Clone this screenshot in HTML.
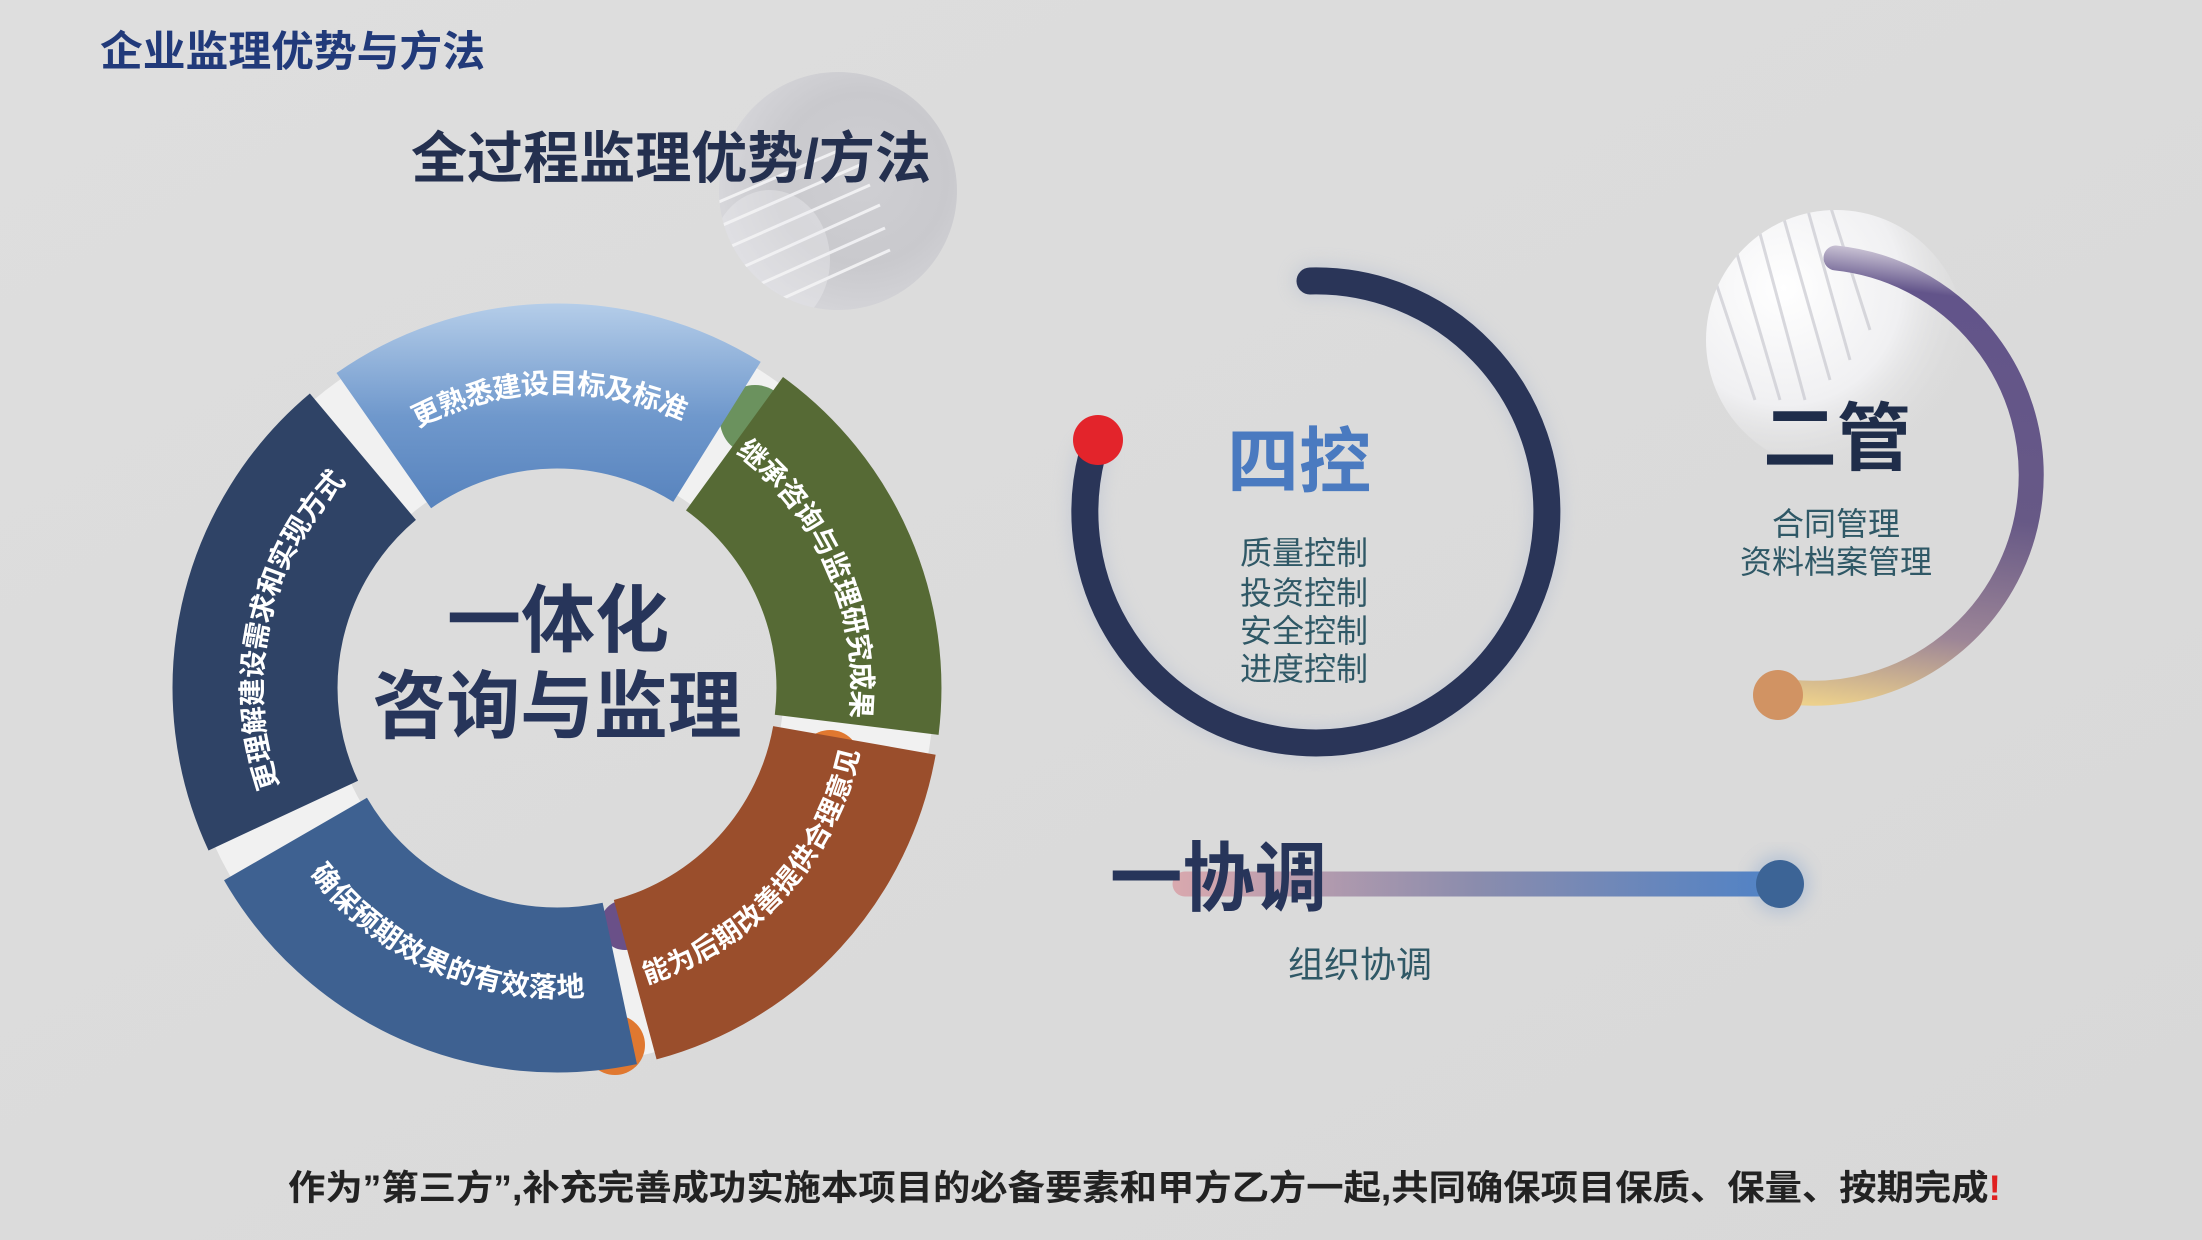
<!DOCTYPE html>
<html><head><meta charset="utf-8">
<style>
html,body{margin:0;padding:0;background:#dcdcdc;}
svg{display:block}
text{font-family:"Liberation Sans","Noto Sans CJK SC",sans-serif;}
</style></head>
<body>
<svg width="2202" height="1240" viewBox="0 0 2202 1240" xmlns="http://www.w3.org/2000/svg">
<defs>
  <linearGradient id="bg" x1="0" y1="0" x2="1" y2="1">
    <stop offset="0" stop-color="#dedede"/><stop offset="1" stop-color="#d8d8d8"/>
  </linearGradient>
  <linearGradient id="topg" x1="0" y1="0" x2="0" y2="1" gradientUnits="userSpaceOnUse" x1v="0">
  </linearGradient>
  <linearGradient id="topBlue" gradientUnits="userSpaceOnUse" x1="557" y1="300" x2="557" y2="560">
    <stop offset="0" stop-color="#b7cfea"/><stop offset="0.45" stop-color="#6f98cc"/><stop offset="1" stop-color="#4a77b5"/>
  </linearGradient>
  <linearGradient id="erg" gradientUnits="userSpaceOnUse" x1="1836" y1="245" x2="1780" y2="700">
    <stop offset="0" stop-color="#c9c2d4"/><stop offset="0.08" stop-color="#62548a"/><stop offset="0.55" stop-color="#675986"/>
    <stop offset="0.82" stop-color="#9c8597"/><stop offset="1" stop-color="#ecd08c"/>
  </linearGradient>
  <linearGradient id="barg" gradientUnits="userSpaceOnUse" x1="1176" y1="0" x2="1780" y2="0">
    <stop offset="0" stop-color="#d8a8ae"/><stop offset="0.5" stop-color="#8a8cad"/><stop offset="1" stop-color="#4f82c6"/>
  </linearGradient>
  <radialGradient id="c1" cx="0.6" cy="0.45" r="0.6">
    <stop offset="0" stop-color="#cfcfd3"/><stop offset="0.6" stop-color="#c9c9cd"/><stop offset="1" stop-color="#d6d6da"/>
  </radialGradient>
  <radialGradient id="c2" cx="0.3" cy="0.3" r="0.75">
    <stop offset="0" stop-color="#ffffff"/><stop offset="0.6" stop-color="#f0f0f2"/><stop offset="1" stop-color="#dcdcdc" stop-opacity="0"/>
  </radialGradient>
  <clipPath id="cc1"><circle cx="838" cy="191" r="119"/></clipPath>
  <clipPath id="cc2"><circle cx="1836" cy="340" r="130"/></clipPath>
  <filter id="blur" x="-20%" y="-20%" width="140%" height="140%"><feGaussianBlur stdDeviation="8"/></filter>

  <path id="tpTop" d="M383.8,440.6 A302,302 0 0 1 717,431.9"/>
  <path id="tpGreen" d="M734.5,443.7 A302,302 0 0 1 856.7,724.8"/>
  <path id="tpNavy" d="M283.3,815.6 A302,302 0 0 1 362.9,456.7"/>
  <path id="tpBrown" d="M635.2,979.7 A302,302 0 0 0 854.4,740.4"/>
  <path id="tpBottom" d="M295.5,839 A302,302 0 0 0 619.8,983.4"/>
</defs>
<rect width="2202" height="1240" fill="url(#bg)"/>

<!-- decorative circle 1 -->
<circle cx="838" cy="191" r="119" fill="url(#c1)"/>
<g clip-path="url(#cc1)" stroke="#f4f4f6" stroke-width="3" opacity="0.9">
  <path d="M700,210 L840,150 M700,235 L860,165 M700,260 L870,185 M710,282 L880,205 M720,302 L885,228 M735,320 L890,250"/>
</g>
<ellipse cx="770" cy="260" rx="60" ry="70" fill="#f1f1f3" opacity="0.35" clip-path="url(#cc1)"/>

<!-- decorative circle 2 -->
<circle cx="1836" cy="340" r="130" fill="url(#c2)"/>
<g clip-path="url(#cc2)" stroke="#c9c9d0" stroke-width="3" opacity="0.7">
  <path d="M1730,230 L1780,400 M1755,215 L1805,400 M1780,205 L1830,380 M1805,200 L1850,360 M1830,205 L1870,330 M1705,250 L1755,400"/>
</g>

<!-- Titles -->
<text x="100" y="66" font-size="42" font-weight="bold" fill="#213a7a" textLength="385" lengthAdjust="spacingAndGlyphs">企业监理优势与方法</text>
<text x="411" y="178" font-size="56" font-weight="bold" fill="#24304f" textLength="520" lengthAdjust="spacingAndGlyphs">全过程监理优势/方法</text>

<!-- Ring -->
<circle cx="557" cy="688" r="302" fill="none" stroke="#f1f1f1" stroke-width="150"/>
<!-- colored caps -->
<circle cx="315" cy="470" r="40" fill="#923c3e"/>
<circle cx="300" cy="900" r="45" fill="#923c3e"/>
<circle cx="755" cy="420" r="35" fill="#4a7a3a" opacity="0.8"/>
<circle cx="830" cy="760" r="30" fill="#e07830"/>
<circle cx="615" cy="1045" r="30" fill="#e07830"/>
<circle cx="625" cy="925" r="25" fill="#6a5088"/>
<circle cx="280" cy="880" r="25" fill="#6a5088"/>

<path d="M383.8,440.6 A302,302 0 0 1 717,431.9" fill="none" stroke="url(#topBlue)" stroke-width="165"/>
<path d="M734.5,443.7 A302,302 0 0 1 856.7,724.8" fill="none" stroke="#566a35" stroke-width="165"/>
<path d="M854.4,740.4 A302,302 0 0 1 635.2,979.7" fill="none" stroke="#9a4e2c" stroke-width="165"/>
<path d="M619.8,983.4 A302,302 0 0 1 295.5,839" fill="none" stroke="#3e6191" stroke-width="165"/>
<path d="M283.3,815.6 A302,302 0 0 1 362.9,456.7" fill="none" stroke="#2f4366" stroke-width="165"/>

<g font-size="28" fill="#ffffff" font-weight="bold">
  <text dominant-baseline="middle"><textPath href="#tpTop" startOffset="50%" text-anchor="middle">更熟悉建设目标及标准</textPath></text>
  <text dominant-baseline="middle"><textPath href="#tpGreen" startOffset="50%" text-anchor="middle">继承咨询与监理研究成果</textPath></text>
  <text dominant-baseline="middle"><textPath href="#tpNavy" startOffset="50%" text-anchor="middle">更理解建设需求和实现方式</textPath></text>
  <text dominant-baseline="middle" font-size="27"><textPath href="#tpBrown" startOffset="50%" text-anchor="middle">能为后期改善提供合理意见</textPath></text>
  <text dominant-baseline="middle"><textPath href="#tpBottom" startOffset="50%" text-anchor="middle">确保预期效果的有效落地</textPath></text>
</g>

<text x="558" y="646" font-size="74" font-weight="bold" fill="#27355a" text-anchor="middle">一体化</text>
<text x="557" y="732" font-size="74" font-weight="bold" fill="#27355a" text-anchor="middle" textLength="369" lengthAdjust="spacingAndGlyphs">咨询与监理</text>

<!-- 四控 -->
<path d="M1310,281 A231,231 0 1 1 1092,455" fill="none" stroke="#a8b4cc" stroke-width="34" stroke-linecap="round" opacity="0.35" filter="url(#blur)"/>
<path d="M1310,281 A231,231 0 1 1 1092,455" fill="none" stroke="#2a3558" stroke-width="27" stroke-linecap="round"/>
<circle cx="1098" cy="440" r="25" fill="#e3242b"/>
<text x="1299" y="487" font-size="72" font-weight="bold" fill="#4a7ac0" text-anchor="middle">四控</text>
<g font-size="32" fill="#2f5866" text-anchor="middle">
  <text x="1304" y="564">质量控制</text>
  <text x="1304" y="604">投资控制</text>
  <text x="1304" y="642">安全控制</text>
  <text x="1304" y="680">进度控制</text>
</g>

<!-- 二管 -->
<path d="M1836,258 A212,212 0 0 1 1790,692" fill="none" stroke="url(#erg)" stroke-width="25" stroke-linecap="round"/>
<circle cx="1778" cy="695" r="25" fill="#d19363"/>
<text x="1837" y="464" font-size="74" font-weight="bold" fill="#1f2d4a" text-anchor="middle">二管</text>
<g font-size="32" fill="#2f5866" text-anchor="middle">
  <text x="1836" y="535">合同管理</text>
  <text x="1836" y="573">资料档案管理</text>
</g>

<!-- 一协调 -->
<line x1="1185" y1="884" x2="1780" y2="884" stroke="url(#barg)" stroke-width="25" stroke-linecap="round"/>
<circle cx="1780" cy="884" r="30" fill="#5a88c8" opacity="0.25" filter="url(#blur)"/>
<circle cx="1780" cy="884" r="24" fill="#3c6496"/>
<text x="1110" y="905" font-size="76" font-weight="bold" fill="#27355a" textLength="217" lengthAdjust="spacingAndGlyphs">一协调</text>
<text x="1360" y="977" font-size="36" fill="#2f5866" text-anchor="middle">组织协调</text>

<!-- bottom line -->
<text x="288" y="1200" font-size="35" font-weight="bold" fill="#222222" textLength="1713" lengthAdjust="spacingAndGlyphs">作为”第三方”,补充完善成功实施本项目的必备要素和甲方乙方一起,共同确保项目保质、保量、按期完成<tspan fill="#e02020">!</tspan></text>
</svg>
</body></html>
